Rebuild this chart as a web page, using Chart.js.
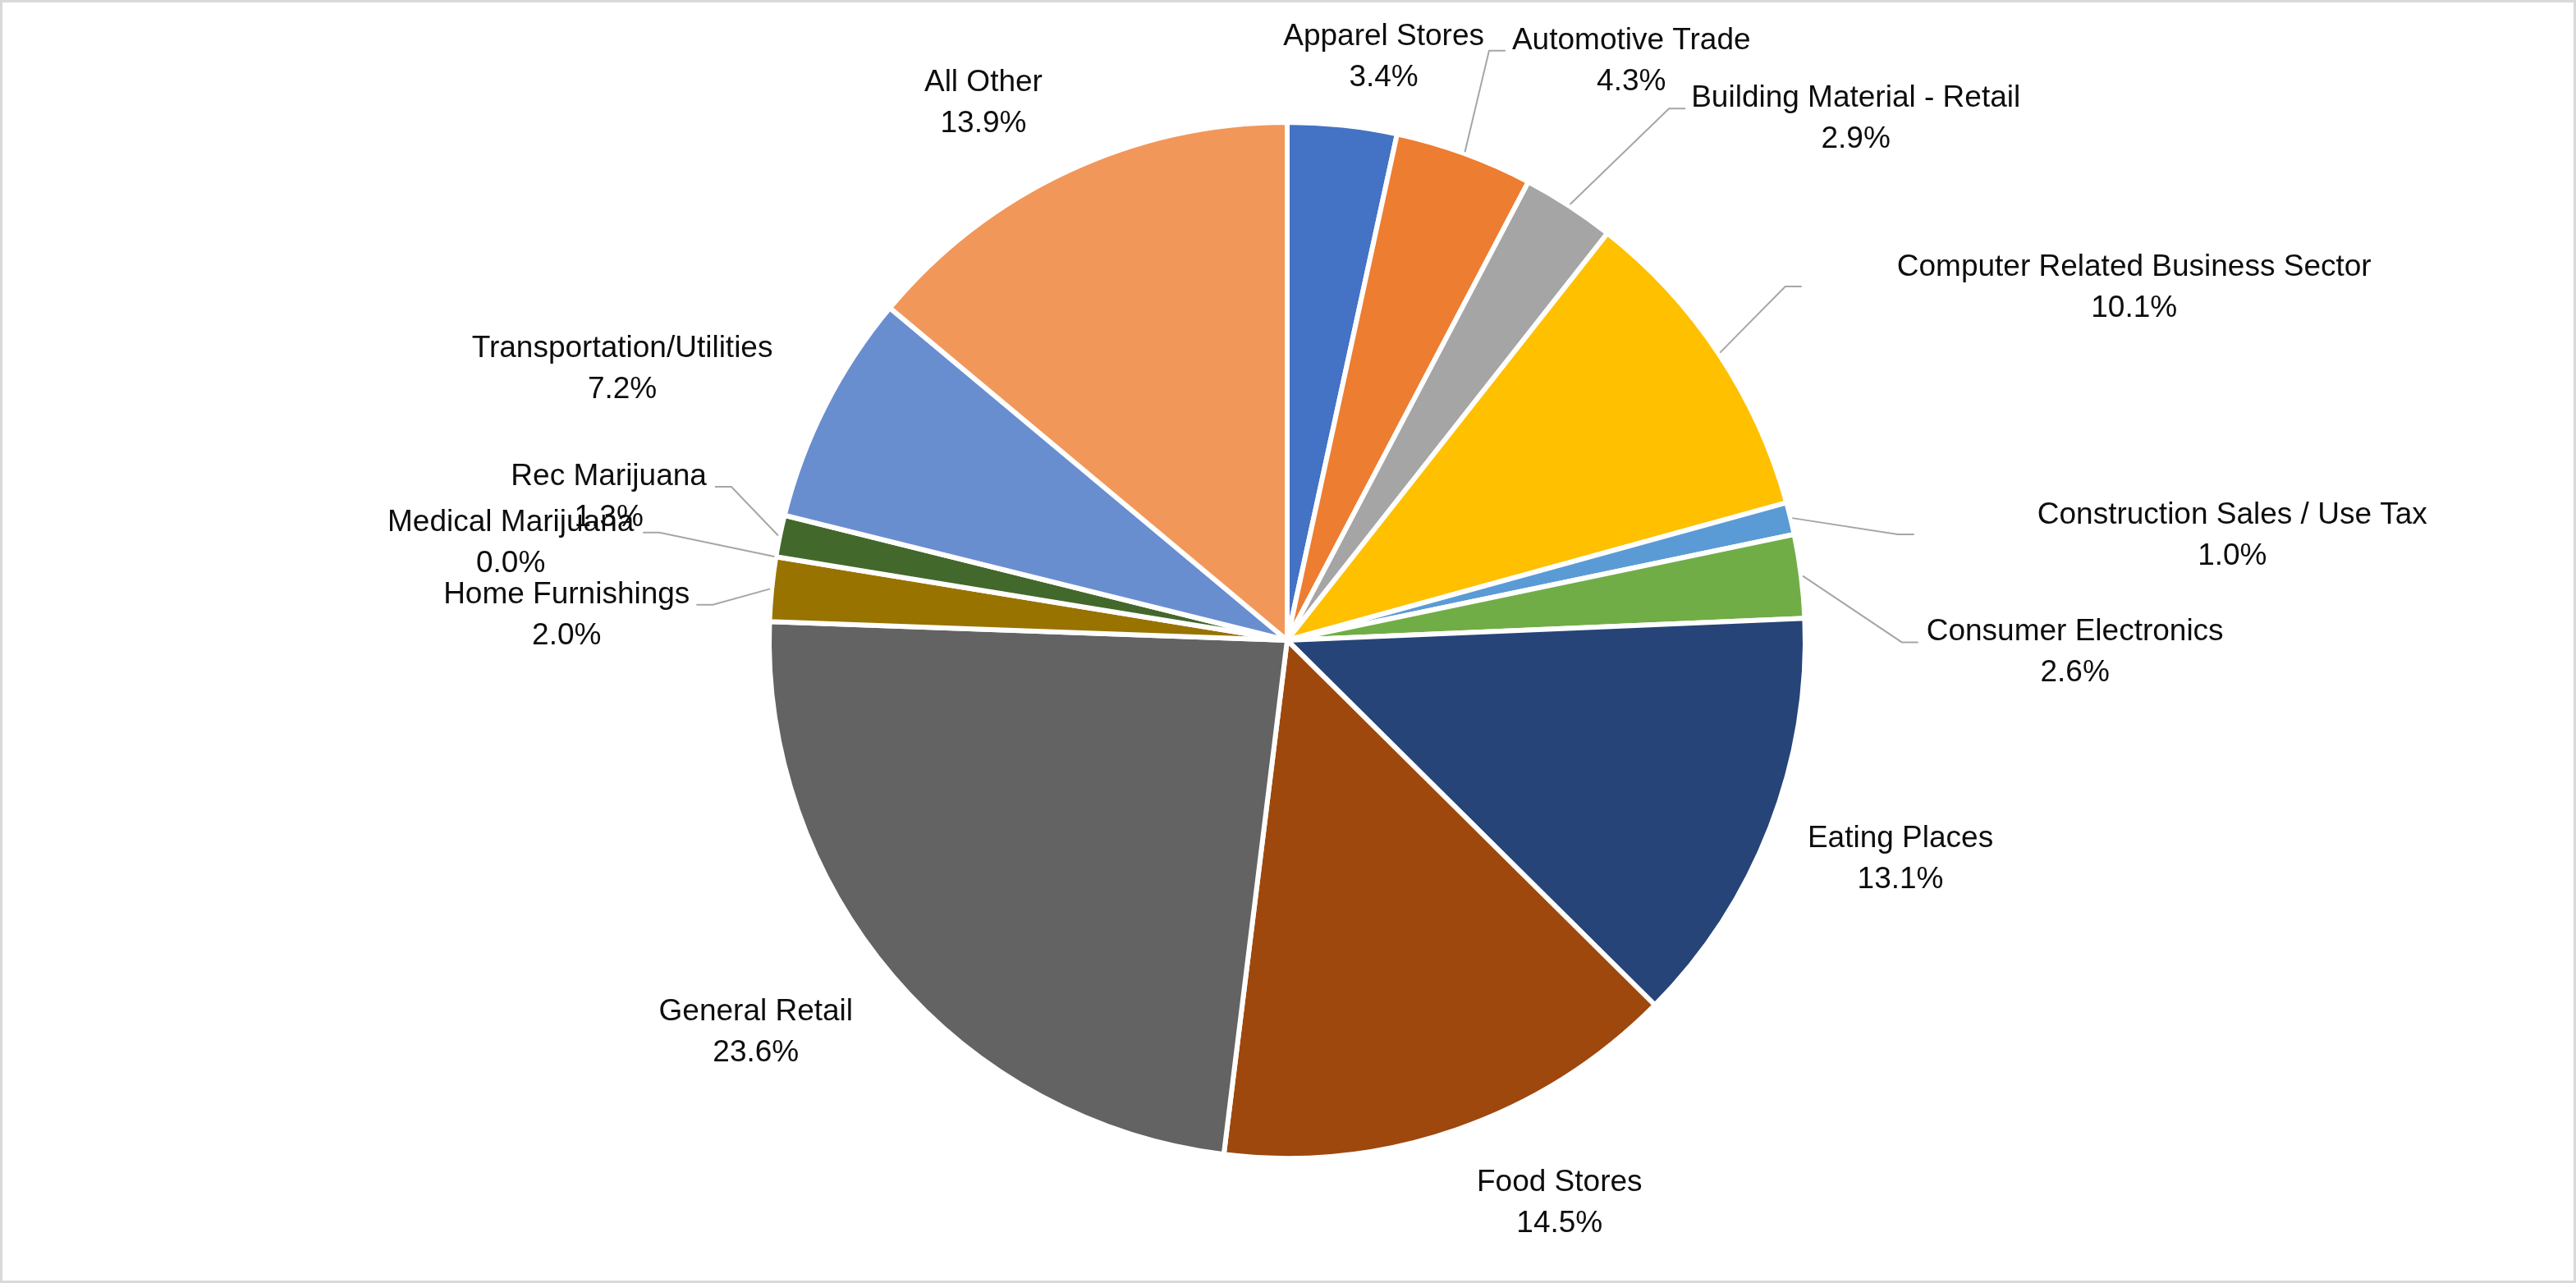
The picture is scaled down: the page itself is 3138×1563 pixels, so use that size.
<!DOCTYPE html>
<html>
<head>
<meta charset="utf-8">
<script src="https://cdn.jsdelivr.net/npm/chart.js@4.4.1/dist/chart.umd.min.js"></script>
<style>
  html, body { margin: 0; padding: 0; background: #ffffff; }
  #wrap { position: relative; width: 3138px; height: 1563px; }
  canvas { display: block; }
</style>
</head>
<body>
<div id="wrap"><canvas id="c" width="3138" height="1563"></canvas></div>
<script>
// ---- data ----
const categories = [
  "Apparel Stores",
  "Automotive Trade",
  "Building Material - Retail",
  "Computer Related Business Sector",
  "Construction Sales / Use Tax",
  "Consumer Electronics",
  "Eating Places",
  "Food Stores",
  "General Retail",
  "Home Furnishings",
  "Medical Marijuana",
  "Rec Marijuana",
  "Transportation/Utilities",
  "All Other"
];
const shares = [3.4, 4.3, 2.9, 10.1, 1.0, 2.6, 13.1, 14.5, 23.6, 2.0, 0.0, 1.3, 7.2, 13.9];
const sliceColors = [
  "#4472C4", "#ED7D31", "#A5A5A5", "#FFC000", "#5B9BD5", "#70AD47",
  "#264478", "#9E480E", "#636363", "#997300", "#255E91", "#43682B",
  "#698ED0", "#F1975A"
];

// ---- label layout (relative to each slice's mid-angle) ----
const labelAngleShift = [3.25, 10.66, 14.44, 10.93, 7.21, 7.92, -1.66, -6.77, 4.13, -3.57, -2.04, 0.4, -4.67, -4.4];
const labelRadiusFactor = [1.144, 1.303, 1.491, 1.772, 1.836, 1.521, 1.256, 1.205, 1.273, 1.392, 1.511, 1.339, 1.387, 1.193];
const leaderGap = [0, 8, 7, 116, 150, 10, 0, 0, 0, 8, 11, 10, 0, 0]; // 0 = no leader line
const leaderAtMid = [false, false, false, true, true, false, false, false, false, false, false, false, false, false];

const FONT = "37px 'Liberation Sans', Arial, sans-serif";

const labelPlugin = {
  id: 'outsideLabels',
  afterDatasetsDraw(chart) {
    const ctx = chart.ctx;
    const meta = chart.getDatasetMeta(0);
    ctx.save();
    ctx.font = FONT;
    ctx.textAlign = 'center';
    ctx.textBaseline = 'alphabetic';
    meta.data.forEach((arc, i) => {
      const p = arc.getProps(['x', 'y', 'startAngle', 'endAngle', 'outerRadius'], true);
      const mid = (p.startAngle + p.endAngle) / 2;
      const a = mid + labelAngleShift[i] * Math.PI / 180;
      const dist = p.outerRadius * labelRadiusFactor[i];
      const cx = p.x + Math.cos(a) * dist;
      const cy = p.y + Math.sin(a) * dist;
      const line1 = categories[i];
      const line2 = shares[i].toFixed(1) + '%';
      const b1 = cy - 13, b2 = cy + 37;

      if (leaderGap[i] > 0) {
        const w = Math.max(ctx.measureText(line1).width, ctx.measureText(line2).width);
        const sx = p.x + Math.cos(mid) * (p.outerRadius + 2);
        const sy = p.y + Math.sin(mid) * (p.outerRadius + 2);
        const rightSide = cx > p.x;
        const ly = leaderAtMid[i] ? cy : b1 + 2;
        const ex = rightSide ? cx - w / 2 - leaderGap[i] : cx + w / 2 + leaderGap[i];
        const kx = rightSide ? ex - 20 : ex + 20;
        ctx.beginPath();
        ctx.strokeStyle = '#A6A6A6';
        ctx.lineWidth = 2;
        ctx.moveTo(sx, sy);
        ctx.lineTo(kx, ly);
        ctx.lineTo(ex, ly);
        ctx.stroke();
      }
      ctx.fillStyle = '#0D0D0D';
      ctx.fillText(line1, cx, b1);
      ctx.fillText(line2, cx, b2);
    });
    ctx.restore();
  },
  afterDraw(chart) {
    const ctx = chart.ctx;
    ctx.save();
    ctx.strokeStyle = '#D9D9D9';
    ctx.lineWidth = 3;
    ctx.strokeRect(1.5, 1.5, chart.width - 3, chart.height - 3);
    ctx.restore();
  }
};

new Chart(document.getElementById('c'), {
  type: 'pie',
  data: {
    labels: categories,
    datasets: [{
      data: shares,
      backgroundColor: sliceColors,
      borderColor: '#FFFFFF',
      borderWidth: 6,
      radius: 631
    }]
  },
  options: {
    responsive: false,
    devicePixelRatio: 1,
    animation: false,
    layout: { padding: { left: 0, right: 2, top: 0, bottom: 3 } },
    plugins: {
      legend: { display: false },
      tooltip: { enabled: false }
    }
  },
  plugins: [labelPlugin]
});
</script>
</body>
</html>
